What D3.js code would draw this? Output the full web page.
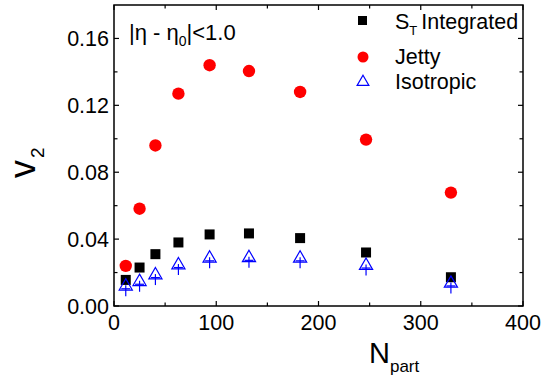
<!DOCTYPE html>
<html>
<head>
<meta charset="utf-8">
<script src="https://cdn.jsdelivr.net/npm/d3@7"></script>
<style>
  body { margin: 0; background: #fff; }
  text { font-family: "Liberation Sans", Arial, sans-serif; }
</style>
</head>
<body>
<svg id="chart" width="553" height="378"></svg>
<script>
// data
const npart = [11.5, 25, 40.5, 63, 93.5, 132, 182, 246.5, 329.5];
const stIntegrated = [0.0156, 0.023, 0.031, 0.038, 0.0428, 0.0434, 0.0406, 0.032, 0.0172];
const jetty = [0.024, 0.0582, 0.096, 0.127, 0.144, 0.1405, 0.128, 0.0995, 0.0678];
const isotropic = [0.0118, 0.0145, 0.0185, 0.0245, 0.0285, 0.0288, 0.0285, 0.0242, 0.0135];
const xTicks = [0, 100, 200, 300, 400];
const yTicks = [0.00, 0.04, 0.08, 0.12, 0.16];

const margin = { left: 114, right: 30, top: 5, bottom: 72 };
const width = 553, height = 378;

const svg = d3.select('#chart');
const x = d3.scaleLinear().domain([0, 400]).range([margin.left, width - margin.right]);
const y = d3.scaleLinear().domain([0, 0.18]).range([height - margin.bottom, margin.top]);

const x0 = x(0), x1 = x(400), y0 = y(0), y1 = y(0.18);

// ticks, pointing inward, on all four sides
const xMinor = d3.range(50, 400, 100);
const yMinor = d3.range(0.02, 0.18, 0.04);
const tickG = svg.append('g').attr('stroke', '#000').attr('stroke-width', 1.2);
xTicks.concat(xMinor).forEach(v => {
  const len = xTicks.includes(v) ? 5 : 3.5;
  tickG.append('line').attr('x1', x(v)).attr('x2', x(v)).attr('y1', y0).attr('y2', y0 - len);
  tickG.append('line').attr('x1', x(v)).attr('x2', x(v)).attr('y1', y1).attr('y2', y1 + len);
});
yTicks.concat(yMinor).forEach(v => {
  const len = yTicks.includes(v) ? 5 : 3.5;
  tickG.append('line').attr('x1', x0).attr('x2', x0 + len).attr('y1', y(v)).attr('y2', y(v));
  tickG.append('line').attr('x1', x1).attr('x2', x1 - len).attr('y1', y(v)).attr('y2', y(v));
});

svg.append('rect')
  .attr('x', x0).attr('y', y1).attr('width', x1 - x0).attr('height', y0 - y1)
  .attr('fill', 'none').attr('stroke', '#000').attr('stroke-width', 1.5);

svg.selectAll('.xlab').data(xTicks).enter().append('text')
  .attr('x', d => x(d)).attr('y', y0 + 24)
  .attr('text-anchor', 'middle').attr('font-size', 21.5)
  .text(d => d);

svg.selectAll('.ylab').data(yTicks).enter().append('text')
  .attr('x', x0 - 5).attr('y', d => y(d) + 7.5)
  .attr('text-anchor', 'end').attr('font-size', 21.5)
  .text(d => d.toFixed(2));

// axis titles
const xt = svg.append('text').attr('x', 369).attr('y', 363).attr('font-size', 29);
xt.append('tspan').text('N');
xt.append('tspan').attr('font-size', 17).attr('dy', 9).text('part');

const yt = svg.append('text').attr('transform', 'translate(35,178) rotate(-90)').attr('font-size', 36);
yt.append('tspan').text('v');
yt.append('tspan').attr('font-size', 19).attr('dy', 9).attr('dx', 2).text('2');

// condition label
const cond = svg.append('text').attr('x', 129).attr('y', 40).attr('font-size', 22);
cond.append('tspan').text('|η - η');
cond.append('tspan').attr('font-size', 14).attr('dy', 6).text('0');
cond.append('tspan').attr('dy', -6).text('|<1.0');

// markers
const plot = svg.append('g');
plot.selectAll('.sq').data(npart).enter().append('rect')
  .attr('x', (d, i) => x(d) - 5).attr('y', (d, i) => y(stIntegrated[i]) - 5)
  .attr('width', 10).attr('height', 10).attr('fill', '#000');

plot.selectAll('.ci').data(npart).enter().append('circle')
  .attr('cx', d => x(d)).attr('cy', (d, i) => y(jetty[i]))
  .attr('r', 6.2).attr('fill', '#f00');

const tri = d3.symbol().type(d3.symbolTriangle).size(75);
const isoG = plot.selectAll('.iso').data(npart).enter().append('g')
  .attr('transform', (d, i) => `translate(${x(d)},${y(isotropic[i])})`)
  .attr('stroke', '#00f').attr('fill', 'none').attr('stroke-width', 1.2);
isoG.append('path').attr('d', tri);
isoG.append('line').attr('x1', 0).attr('x2', 0).attr('y1', -1).attr('y2', 10);
isoG.append('line').attr('x1', -4.5).attr('x2', 4.5).attr('y1', 2.5).attr('y2', 2.5);

// legend
const lg = svg.append('g');
lg.append('rect').attr('x', 358).attr('y', 16).attr('width', 9).attr('height', 9).attr('fill', '#000');
const l1 = lg.append('text').attr('x', 395).attr('y', 29).attr('font-size', 21.5);
l1.append('tspan').text('S');
l1.append('tspan').attr('font-size', 13).attr('dy', 6).text('T');
l1.append('tspan').attr('dy', -6).attr('dx', 4).text('Integrated');

lg.append('circle').attr('cx', 363).attr('cy', 57).attr('r', 5.5).attr('fill', '#f00');
lg.append('text').attr('x', 395).attr('y', 64).attr('font-size', 21.5).text('Jetty');

lg.append('path').attr('d', d3.symbol().type(d3.symbolTriangle).size(60))
  .attr('transform', 'translate(363,82)').attr('fill', 'none').attr('stroke', '#00f').attr('stroke-width', 1.2);
lg.append('text').attr('x', 395).attr('y', 89).attr('font-size', 21.5).text('Isotropic');
</script>
</body>
</html>
